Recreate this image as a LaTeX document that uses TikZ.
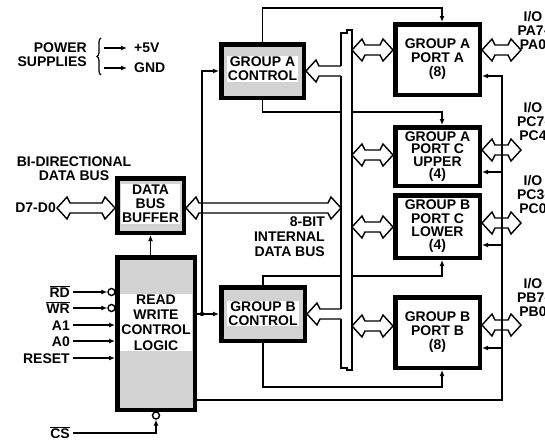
\documentclass[tikz,border=0pt]{standalone}
\usepackage{fontspec}
\setmainfont{Liberation Sans}
\usetikzlibrary{arrows.meta,calc,decorations.pathreplacing}

\newcommand{\dblbus}[2]{%
    \path (#1) coordinate (bA) (#2) coordinate (bB);
    \draw[hollow] (bA) -- ++(10,-11) -- ($(bA)+(13,-5)$) -- ($(bA -| bB)+(-13,-5)$) -- ++(3,-6) -- (bA -| bB)
        -- ++(-10,11) -- ($(bA -| bB)+(-13,5)$) -- ($(bA)+(13,5)$) -- ++(-3,6) -- cycle;}
\newcommand{\onebus}[2]{%
    \path (#1) coordinate (bA) (#2) coordinate (bB);
    \fill[white] (bA) -- ++(10,-11) -- ($(bA)+(13,-5)$) -- ($(bA -| bB)+(2,-5)$) -- ($(bA -| bB)+(2,5)$)
        -- ($(bA)+(13,5)$) -- ++(-3,6) -- cycle;
    \draw[hollow, fill=none] ($(bA -| bB)+(0,-5)$) -- ($(bA)+(13,-5)$) -- ++(-3,-6) -- (bA)
        -- ++(10,11) -- ($(bA)+(13,5)$) -- ($(bA -| bB)+(0,5)$);}

\begin{document}
\begin{tikzpicture}[x=1pt, y=-1pt,
    txt/.style={font=\fontsize{14}{14}\selectfont\bfseries, align=center, inner sep=1pt},
    ctlbox/.style={draw, line width=4.5pt, fill=gray!35, inner sep=0pt},
    portbox/.style={txt, draw, line width=4.5pt, fill=white, inner sep=0pt},
    hollow/.style={draw, line width=1.4pt, fill=white},
    wire/.style={line width=1.4pt},
    sig/.style={wire, -{Latex[length=6pt,width=5pt]}},
    inp/.style={sig, shorten <=3pt},
    bubble/.style={draw, line width=1.4pt, fill=white, circle, inner sep=0pt, minimum size=7pt},
    pin/.style={txt, anchor=east, text height=10pt, text depth=0pt, inner sep=0pt}]
    \useasboundingbox (0,0) rectangle (545,439);

    \node[ctlbox, minimum width=66.5pt, minimum height=54.5pt] (dbb) at (150.5,205.5) {};
    \node[txt, fill=white] at (150.5,204) {DATA\\BUS\\BUFFER};
    \node[ctlbox, minimum width=77.5pt, minimum height=152.5pt] (rwcl) at (156,333.5) {};
    \node[txt, fill=white, font=\fontsize{14}{15.3}\selectfont\bfseries] at (156,322.5) {READ\\WRITE\\CONTROL\\LOGIC};
    \node[ctlbox, minimum width=82.5pt, minimum height=53.5pt] (gac) at (262.5,71) {};
    \node[txt, fill=white] at (262.5,69) {GROUP A\\CONTROL};
    \node[ctlbox, minimum width=83.5pt, minimum height=53.5pt] (gbc) at (263,314) {};
    \node[txt, fill=white] at (263,313.5) {GROUP B\\CONTROL};

    \node[portbox, minimum width=84.5pt, minimum height=70.5pt] (pa) at (437.5,59.5) {GROUP A\\PORT A\\(8)};
    \node[portbox, minimum width=84.5pt, minimum height=58.5pt, font=\fontsize{14}{12.5}\selectfont\bfseries] (pcu) at (437.5,156.5) {GROUP A\\PORT C\\UPPER\\(4)};
    \node[portbox, minimum width=84.5pt, minimum height=62.5pt, font=\fontsize{14}{13.3}\selectfont\bfseries] (pcl) at (437.5,226.5) {GROUP B\\PORT C\\LOWER\\(4)};
    \node[portbox, minimum width=84.5pt, minimum height=70.5pt] (pb) at (437.5,332.5) {GROUP B\\PORT B\\(8)};

    \draw[sig] (gac.north) -- ++(0,-34) -| ([xshift=4.5pt]pa.north);
    \draw[sig] (gac.south) -- ++(0,12) -| ([xshift=4.5pt]pcu.north);
    \draw[sig] (gbc.north) -- ++(0,-9) -| ([xshift=4.5pt]pcl.south);
    \draw[sig] (gbc.south) -- ++(0,44) -| ([xshift=4.5pt]pb.south);

    \node[fill=white, minimum width=11pt, minimum height=336pt, inner sep=0pt, outer sep=0pt] (bus) at (346.5,200) {};
    \draw[wire] (bus.south west) -- ($(bus.north west)+(0,1)$) -- ++(6,0) -- ++(0,-3) -- ($(bus.north east)+(0,-2)$)
        -- ($(bus.south east)+(0,2)$) -- ++(-5,0) -- ++(0,-2) -- cycle;

    \node[txt, anchor=east] (d7) at (57,208) {D7-D0};
    \dblbus{d7.east}{dbb.west |- d7.east}
    \dblbus{dbb.east |- d7.east}{bus.west |- d7.east}
    \onebus{gac.east}{bus.west}
    \onebus{gbc.east}{bus.west}

    \dblbus{bus.east |- 0,50}{pa.west |- 0,50}
    \dblbus{bus.east |- 0,155}{pcu.west |- 0,155}
    \dblbus{bus.east |- 0,227}{pcl.west |- 0,227}
    \dblbus{bus.east |- 0,326}{pb.west |- 0,326}

    \coordinate (ioa) at (521,50);
    \coordinate (iocu) at (521,150);
    \coordinate (iocl) at (521,223);
    \coordinate (iob) at (521,325);
    \dblbus{pa.east |- ioa}{ioa}
    \dblbus{pcu.east |- iocu}{iocu}
    \dblbus{pcl.east |- iocl}{iocl}
    \dblbus{pb.east |- iob}{iob}

    \node[txt] (ioal) at (533,30) {I/O\\PA7-\\PA0};
    \node[txt] (iocul) at (533,121) {I/O\\PC7-\\PC4};
    \node[txt] (iocll) at (533,194) {I/O\\PC3-\\PC0};
    \node[txt] (iobl) at (533,297) {I/O\\PB7-\\PB0};

    \coordinate (jn) at ($(rwcl.east |- gbc.west)+(5,0)$);
    \draw[sig] (rwcl.east |- gbc.west) -- (gbc.west);
    \draw[sig] (jn) |- (gac.west);
    \fill (jn) circle (2.2pt);
    \draw[sig] (dbb.south |- rwcl.north) -- (dbb.south);

    \coordinate (pc) at (502,400);
    \draw[sig] (rwcl.east |- pc) -- (pc) |- (pa.east |- 0,76);
    \foreach \p/\y in {pcu/172, pcl/245, pb/348}
        \draw[sig] (pc |- 0,\y) -- (\p.east |- 0,\y);

    \node[pin] (rd) at (70,292) {$\overline{\mbox{RD}}$};
    \node[pin] (wr) at (70,308) {$\overline{\mbox{WR}}$};
    \node[pin] (a1) at (70,325) {A1};
    \node[pin] (a0) at (70,341) {A0};
    \node[pin] (reset) at (70,358) {RESET};
    \node[pin] (cs) at (70,433) {$\overline{\mbox{CS}}$};
    \node[bubble] (rdb) at ($(rwcl.west |- rd)+(-3.5,0)$) {};
    \node[bubble] (wrb) at ($(rwcl.west |- wr)+(-3.5,0)$) {};
    \node[bubble] (csb) at ($(rwcl.south)+(0,3.5)$) {};
    \draw[inp] (rd) -- (rdb);
    \draw[inp] (wr) -- (wrb);
    \draw[inp] (a1) -- (a1 -| rwcl.west);
    \draw[inp] (a0) -- (a0 -| rwcl.west);
    \draw[inp] (reset) -- (reset -| rwcl.west);
    \draw[inp] (cs) -| (csb);

    \node[txt, align=right, anchor=east] (pwr) at (88,55) {POWER\\SUPPLIES};
    \draw[wire, line width=1.2pt, decorate, decoration={brace, amplitude=4pt}] (101,75) -- (101,38);
    \coordinate (p5) at (104,48);
    \coordinate (pg) at (104,68);
    \node[txt, anchor=west] (v5) at (133,48) {+5V};
    \node[txt, anchor=west] (gnd) at (133,68) {GND};
    \draw[sig, shorten >=6pt] (p5) -- (v5);
    \draw[sig, shorten >=6pt] (pg) -- (gnd);

    \node[txt] (bidir) at (74,169) {BI-DIRECTIONAL\\DATA BUS};
    \node[txt, align=right, anchor=east, font=\fontsize{14}{15}\selectfont\bfseries] (ibus) at (326,237) {8-BIT\\INTERNAL\\DATA BUS};
\end{tikzpicture}
\end{document}
